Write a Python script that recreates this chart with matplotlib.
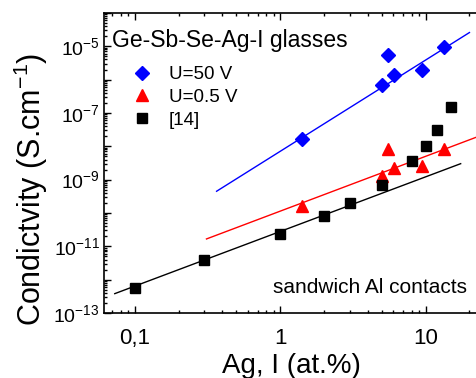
import numpy as np
import matplotlib
matplotlib.use('Agg')
import matplotlib.pyplot as plt
from matplotlib.ticker import LogLocator, NullFormatter

plt.rcParams['font.family'] = ['Liberation Sans', 'DejaVu Sans']
plt.rcParams['mathtext.fontset'] = 'custom'
plt.rcParams['mathtext.rm'] = 'Liberation Sans'
plt.rcParams['mathtext.it'] = 'Liberation Sans:italic'

# data
ag_50V = [1.41, 5.0, 5.55, 6.05, 9.45, 13.4]
sig_50V = [1.6e-8, 6.9e-7, 5.4e-6, 1.38e-6, 1.95e-6, 9.5e-6]

ag_05V = [1.41, 5.03, 5.55, 6.05, 9.45, 13.4]
sig_05V = [1.67e-10, 1.3e-9, 8.3e-9, 2.2e-9, 2.6e-9, 8.5e-9]

ag_ref = [0.1, 0.3, 1.0, 2.0, 3.0, 5.0, 8.0, 10.0, 12.0, 15.0]
sig_ref = [5.7e-13, 4e-12, 2.4e-11, 8.3e-11, 2e-10, 6.8e-10, 3.7e-9, 1e-8, 3e-8, 1.5e-7]

# fit line end points
fit_50V_x = [0.365, 20.0]
fit_50V_y = [4.47e-10, 2.57e-5]
fit_05V_x = [0.311, 22.9]
fit_05V_y = [1.66e-11, 1.95e-8]
fit_ref_x = [0.0728, 17.4]
fit_ref_y = [3.8e-13, 3.0e-9]

xtick_vals = [0.1, 1, 10]
xtick_labels = ['0,1', '1', '10']
ytick_exps = list(range(-13, -3))

fig = plt.figure(figsize=(4.76, 3.78), dpi=100)
ax = fig.add_axes([0.2185, 0.172, 0.80, 0.794])

ax.plot(fit_50V_x, fit_50V_y, color='#0000FF', lw=1)
ax.plot(fit_05V_x, fit_05V_y, color='#FF0000', lw=1)
ax.plot(fit_ref_x, fit_ref_y, color='black', lw=1)

ax.plot(ag_50V, sig_50V, 'D', color='#0000FF', ms=7, ls='none', label='U=50 V')
ax.plot(ag_05V, sig_05V, '^', color='#FF0000', ms=8, ls='none', label='U=0.5 V')
ax.plot(ag_ref, sig_ref, 's', color='black', ms=6.5, ls='none', label='[14]')

ax.set_xscale('log')
ax.set_yscale('log')
ax.set_xlim(0.0614, 25.5)
ax.set_ylim(1e-13, 1e-4)

ax.set_xticks(xtick_vals, xtick_labels)
ax.xaxis.set_minor_locator(LogLocator(base=10, subs=np.arange(2, 10), numticks=100))
ax.xaxis.set_minor_formatter(NullFormatter())

ax.set_yticks([10.0**e for e in ytick_exps],
              ['$10^{%d}$' % e if e % 2 else '' for e in ytick_exps])
ax.yaxis.set_minor_locator(LogLocator(base=10, subs=np.arange(2, 10), numticks=100))
ax.yaxis.set_minor_formatter(NullFormatter())

ax.tick_params(which='both', direction='in', top=True, right=False, width=1)
ax.tick_params(which='major', length=5)
ax.tick_params(which='minor', length=2.5)
ax.tick_params(axis='x', labelsize=16, pad=11)
ax.tick_params(axis='y', labelsize=14, pad=3)
ax.spines['right'].set_visible(False)
for s in ['left', 'bottom', 'top']:
    ax.spines[s].set_linewidth(1.2)

ax.text(0.021, 0.887, 'Ge-Sb-Se-Ag-I glasses', transform=ax.transAxes,
        fontsize=16.5, va='baseline', ha='left')
ax.text(0.954, 0.067, 'sandwich Al contacts', transform=ax.transAxes,
        fontsize=15, va='baseline', ha='right')

ax.legend(loc='upper left', bbox_to_anchor=(0.071, 0.823), frameon=False,
          fontsize=13.5, borderpad=0, borderaxespad=0, handlelength=1.2,
          handletextpad=0.8, labelspacing=0.3)

fig.text(0.065, 0.5, 'Condictvity (S.cm$^{-1}$)', rotation=90, fontsize=22,
         ha='center', va='center')
fig.text(0.613, 0.032, 'Ag, I (at.%)', fontsize=20, ha='center', va='center')

fig.savefig('out.png', dpi=100)
